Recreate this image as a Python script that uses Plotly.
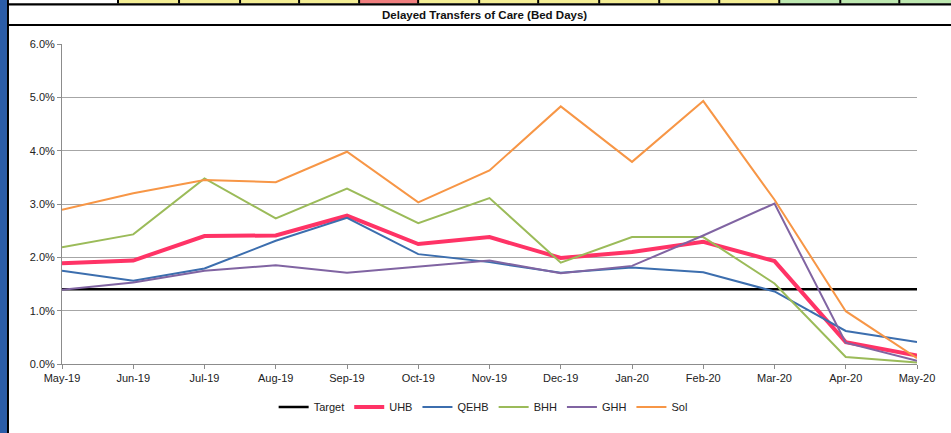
import plotly.graph_objects as go

months = ["May-19", "Jun-19", "Jul-19", "Aug-19", "Sep-19", "Oct-19", "Nov-19",
          "Dec-19", "Jan-20", "Feb-20", "Mar-20", "Apr-20", "May-20"]
target = [0.014] * 13
uhb = [0.0189, 0.0194, 0.0240, 0.0241, 0.0278, 0.0225, 0.0238, 0.0199, 0.0210, 0.0229, 0.0193, 0.0041, 0.0016]
qehb = [0.0175, 0.0156, 0.0179, 0.0231, 0.0274, 0.0206, 0.0191, 0.0171, 0.0181, 0.0172, 0.0136, 0.0062, 0.0041]
bhh = [0.0219, 0.0243, 0.0348, 0.0273, 0.0329, 0.0264, 0.0311, 0.0190, 0.0238, 0.0238, 0.0151, 0.0013, 0.0003]
ghh = [0.0139, 0.0153, 0.0175, 0.0185, 0.0171, 0.0183, 0.0194, 0.0170, 0.0184, 0.0241, 0.0301, 0.0040, 0.0006]
sol = [0.0289, 0.0320, 0.0345, 0.0341, 0.0398, 0.0303, 0.0363, 0.0483, 0.0379, 0.0493, 0.0308, 0.0099, 0.0011]

W, H = 951, 433
L, R, T, B = 62, 916.7, 44, 364

def px(x):
    return (x - L) / (R - L)

def py(y):
    return (B - y) / (B - T)

font = "Liberation Sans"
fig = go.Figure()
series = [
    ("Target", target, "#000000", 2.5),
    ("UHB", uhb, "#FF3366", 4),
    ("QEHB", qehb, "#3C6EAE", 2),
    ("BHH", bhh, "#9BBB59", 2),
    ("GHH", ghh, "#8064A2", 2),
    ("Sol", sol, "#F79646", 2),
]
for name, vals, col, w in series:
    fig.add_trace(go.Scatter(x=months, y=vals, mode="lines", name=name,
                             line=dict(color=col, width=w)))

shapes = []
shapes.append(dict(type="rect", xref="paper", yref="paper", x0=px(0), x1=px(7), y0=py(H), y1=py(0),
                   fillcolor="#2B5DA8", line=dict(width=0), layer="above"))
shapes.append(dict(type="rect", xref="paper", yref="paper", x0=px(7), x1=px(9), y0=py(H), y1=py(0),
                   fillcolor="#000000", line=dict(width=0), layer="above"))
bounds = [9, 118, 179, 240, 299, 359, 418, 479, 538, 599, 659, 719, 779, 840, 899, 951]
for i in range(len(bounds) - 1):
    x0, x1 = bounds[i], bounds[i + 1]
    if i == 0:
        c = "#FFFFFF"
    elif i == 5:
        c = "#F07E7E"
    elif x0 >= 779:
        c = "#BDE8B0"
    else:
        c = "#F4EE94"
    shapes.append(dict(type="rect", xref="paper", yref="paper", x0=px(x0), x1=px(x1), y0=py(3.5), y1=py(0),
                       fillcolor=c, line=dict(width=0), layer="above"))
    if i > 0:
        shapes.append(dict(type="rect", xref="paper", yref="paper", x0=px(x0 - 1), x1=px(x0 + 1), y0=py(3.5), y1=py(0),
                           fillcolor="#000000", line=dict(width=0), layer="above"))
shapes.append(dict(type="rect", xref="paper", yref="paper", x0=px(8), x1=px(W), y0=py(5.5), y1=py(3.3),
                   fillcolor="#000000", line=dict(width=0), layer="above"))
shapes.append(dict(type="rect", xref="paper", yref="paper", x0=px(8), x1=px(W), y0=py(26), y1=py(24),
                   fillcolor="#000000", line=dict(width=0), layer="above"))

fig.update_layout(
    width=W, height=H,
    margin=dict(l=L, r=W - R, t=T, b=H - B),
    paper_bgcolor="white", plot_bgcolor="white",
    font=dict(family=font, size=11, color="#222222"),
    shapes=shapes,
    annotations=[dict(text="<b>Delayed Transfers of Care (Bed Days)</b>", xref="paper", yref="paper",
                      x=px(484), y=py(15), xanchor="center", yanchor="middle", showarrow=False,
                      font=dict(family=font, size=11.5, color="#111111"))],
    showlegend=True,
    legend=dict(orientation="h", x=px(483), y=py(407), xanchor="center", yanchor="middle",
                font=dict(family=font, size=11, color="#222222"), itemwidth=30,
                bgcolor="rgba(0,0,0,0)"),
    xaxis=dict(type="category", range=[0, 12], showgrid=False, showline=True, linecolor="#8C8C8C",
               linewidth=1, ticks="outside", ticklen=4, tickcolor="#8C8C8C", zeroline=False,
               tickfont=dict(family=font, size=11, color="#222222")),
    yaxis=dict(range=[0, 0.06], dtick=0.01, tickformat=".1%", showgrid=True, gridcolor="#A6A6A6",
               gridwidth=1, showline=True, linecolor="#8C8C8C", linewidth=1, ticks="outside",
               ticklen=4, tickcolor="#8C8C8C", zeroline=False,
               tickfont=dict(family=font, size=11, color="#222222")),
)

fig.write_html("out.html", config={"displayModeBar": False})
with open("out.html", "r", encoding="utf-8") as f:
    html = f.read()
html = html.replace("<head>", "<head><style>html,body{margin:0;padding:0;overflow:hidden;}</style>", 1)
with open("out.html", "w", encoding="utf-8") as f:
    f.write(html)
